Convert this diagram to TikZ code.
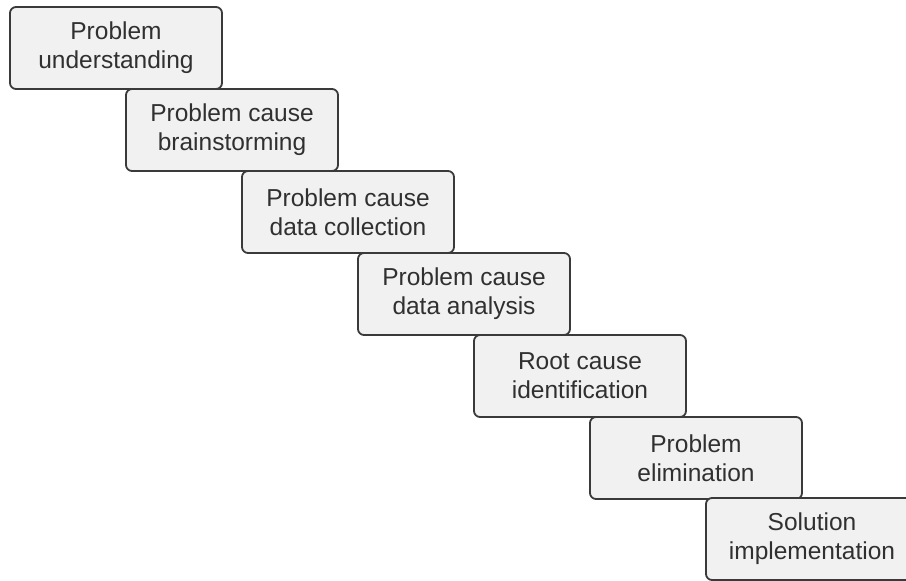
\documentclass[tikz,border=0pt]{standalone}
\usepackage{fontspec}
\setmainfont{Liberation Sans}
\definecolor{boxfill}{HTML}{F1F1F1}
\definecolor{boxline}{HTML}{3A3A3A}
\definecolor{boxtext}{HTML}{303030}
\tikzset{
  stepbox/.style={draw=boxline, line width=1.8pt, fill=boxfill, rounded corners=6pt,
    minimum width=212pt, minimum height=82pt, inner sep=0pt, align=center,
    text=boxtext, font=\fontsize{24.5pt}{29pt}\selectfont}
}
\begin{document}
\begin{tikzpicture}[x=1pt,y=-1pt]
  \useasboundingbox (0,0) rectangle (906,581);
  \begin{scope}
    \clip (0,0) rectangle (906,581);
    \node[stepbox] (s1) at (116,48)  {Problem\\understanding};
    \node[stepbox] (s2) at (232,130) {Problem cause\\brainstorming};
    \node[stepbox] (s3) at (348,212) {Problem cause\\data collection};
    \node[stepbox] (s4) at (464,294) {Problem cause\\data analysis};
    \node[stepbox] (s5) at (580,376) {Root cause\\identification};
    \node[stepbox] (s6) at (696,458) {Problem\\elimination};
    \node[stepbox] (s7) at (812,539) {Solution\\implementation};
  \end{scope}
\end{tikzpicture}
\end{document}
